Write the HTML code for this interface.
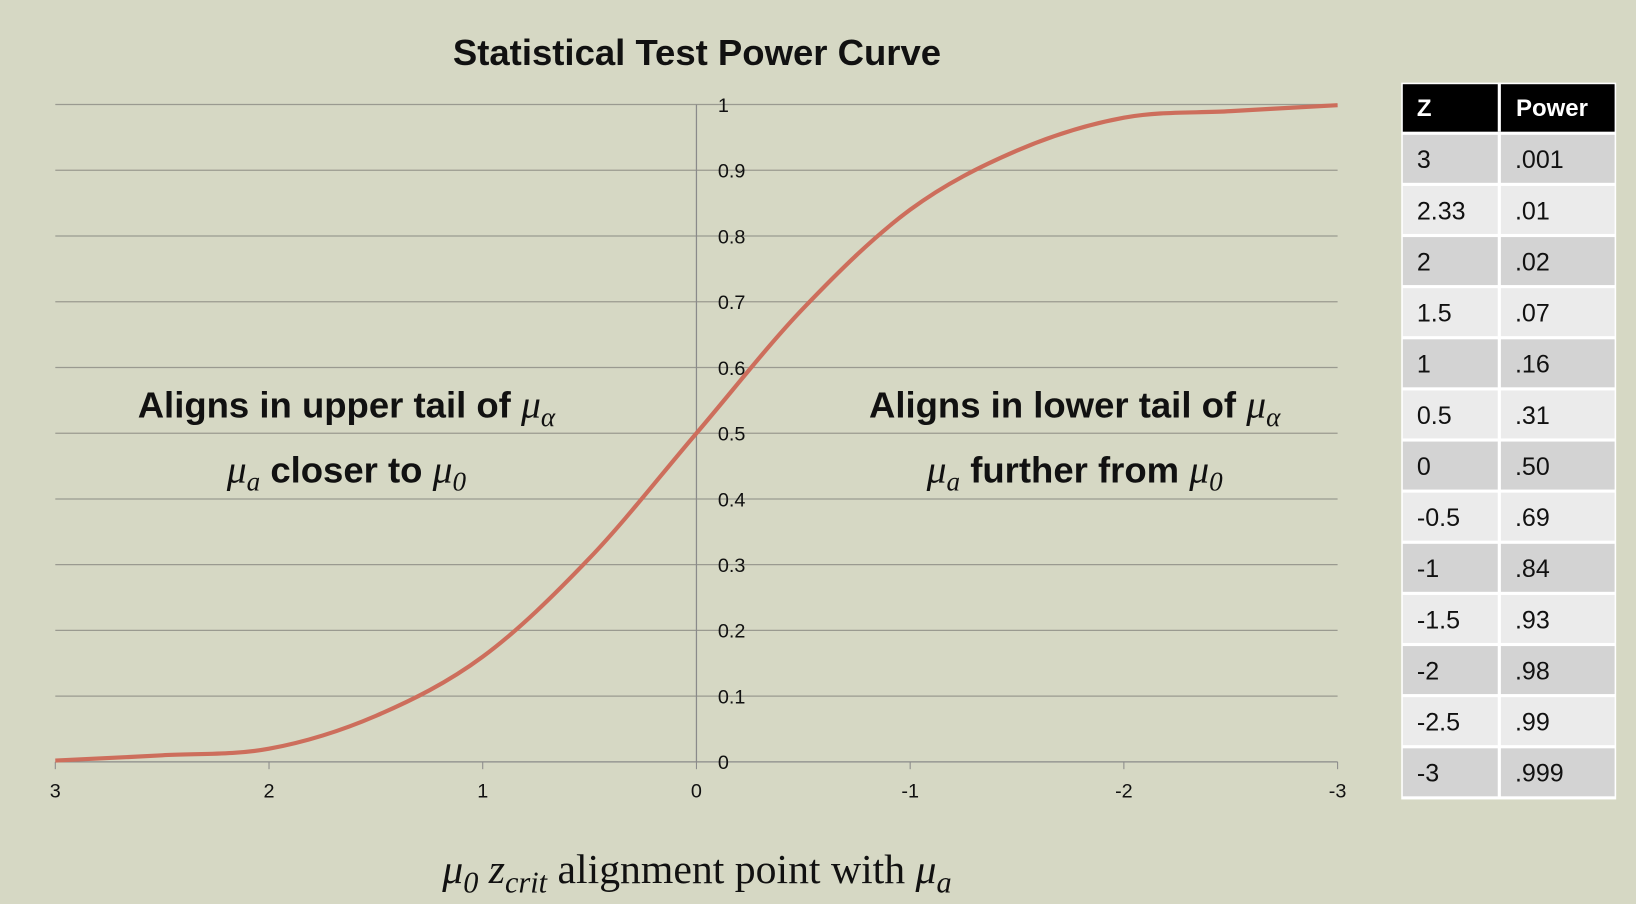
<!DOCTYPE html>
<html><head><meta charset="utf-8"><style>
html,body{margin:0;padding:0;background:#d6d8c4;}
svg{display:block;}
.t{font-family:"Liberation Sans",sans-serif;}
.m{font-family:"Liberation Serif",serif;font-style:italic;}
</style></head><body>
<svg width="1636" height="904" viewBox="0 0 1568 866" xmlns="http://www.w3.org/2000/svg">
<rect width="1568" height="866" fill="#d6d8c4"/>
<text x="668" y="62" text-anchor="middle" class="t" font-size="35" font-weight="bold" fill="#111">Statistical Test Power Curve</text>
<g id="grid"></g>
<g id="curve"></g>
<g id="ann" class="t" font-size="35" font-weight="bold" fill="#111">
<text x="332" y="400" text-anchor="middle">Aligns in upper tail of <tspan class="m" font-weight="normal" font-size="38">μ<tspan font-size="26" dy="8">α</tspan></tspan></text>
<text x="332" y="462" text-anchor="middle"><tspan class="m" font-weight="normal" font-size="38">μ<tspan font-size="26" dy="8">a</tspan></tspan><tspan dy="-8"> closer to </tspan><tspan class="m" font-weight="normal" font-size="38">μ<tspan font-size="26" dy="8">0</tspan></tspan></text>
<text x="1030" y="400" text-anchor="middle">Aligns in lower tail of <tspan class="m" font-weight="normal" font-size="38">μ<tspan font-size="26" dy="8">α</tspan></tspan></text>
<text x="1030" y="462" text-anchor="middle"><tspan class="m" font-weight="normal" font-size="38">μ<tspan font-size="26" dy="8">a</tspan></tspan><tspan dy="-8"> further from </tspan><tspan class="m" font-weight="normal" font-size="38">μ<tspan font-size="26" dy="8">0</tspan></tspan></text>
</g>
<text x="668" y="846" text-anchor="middle" font-family="Liberation Serif,serif" font-size="40" fill="#111"><tspan font-style="italic">μ<tspan font-size="29" dy="9">0</tspan></tspan><tspan dy="-9" font-style="italic"> z<tspan font-size="29" dy="9">crit</tspan></tspan><tspan dy="-9"> alignment point with </tspan><tspan font-style="italic">μ<tspan font-size="29" dy="9">a</tspan></tspan></text>
<g id="table"></g>
</svg>
<script>
const zVals=[3,2.5,2,1.5,1,0.5,0,-0.5,-1,-1.5,-2,-2.5,-3];
const powerVals=[0.002,0.01,0.02,0.07,0.16,0.31,0.5,0.69,0.84,0.93,0.98,0.99,0.999];
const yTicks=[0,0.1,0.2,0.3,0.4,0.5,0.6,0.7,0.8,0.9,1];
const yTickLabels=["0","0.1","0.2","0.3","0.4","0.5","0.6","0.7","0.8","0.9","1"];
const xTicks=[3,2,1,0,-1,-2,-3];
const xTickLabels=["3","2","1","0","-1","-2","-3"];
const tableZ=["3","2.33","2","1.5","1","0.5","0","-0.5","-1","-1.5","-2","-2.5","-3"];
const tablePower=[".001",".01",".02",".07",".16",".31",".50",".69",".84",".93",".98",".99",".999"];
const NS="http://www.w3.org/2000/svg";
const X=z=>53+(3-z)/6*(1282-53);
const Y=p=>730-p*630;
function mk(tag,attrs,parent){const e=document.createElementNS(NS,tag);for(const k in attrs)e.setAttribute(k,attrs[k]);parent.appendChild(e);return e;}
const g=document.getElementById('grid');
yTicks.forEach((v,i)=>{
 const l=mk('line',{x1:53,x2:1282,y1:Y(v),y2:Y(v),stroke:i==0?'#8a8a8a':'#9a9a90','stroke-width':1.2},g);
 
 
 const t=mk('text',{x:688,y:Y(v)+7,'font-size':19,fill:'#111',class:'t'},g);t.textContent=yTickLabels[i];
 
 
});
const ax=mk('line',{x1:X(0),x2:X(0),y1:Y(1),y2:Y(0),stroke:'#8a8a8a','stroke-width':1.2},g);


xTicks.forEach((v,i)=>{
 const tk=mk('line',{x1:X(v),x2:X(v),y1:730,y2:737,stroke:'#8a8a8a'},g);
 
 
 const t=mk('text',{x:X(v),y:764,'font-size':19,fill:'#111','text-anchor':'middle',class:'t'},g);t.textContent=xTickLabels[i];
 
 
});
const pts=zVals.map((z,i)=>[X(z),Y(powerVals[i])]);
let d=`M${pts[0][0]},${pts[0][1]}`;
for(let i=0;i<pts.length-1;i++){
 const p0=pts[Math.max(0,i-1)],p1=pts[i],p2=pts[i+1],p3=pts[Math.min(pts.length-1,i+2)];
 d+=` C${p1[0]+(p2[0]-p0[0])/6},${p1[1]+(p2[1]-p0[1])/6} ${p2[0]-(p3[0]-p1[0])/6},${p2[1]-(p3[1]-p1[1])/6} ${p2[0]},${p2[1]}`;
}
const c=mk('path',{d:d,fill:'none',stroke:'#cd6e5c','stroke-width':4},document.getElementById('curve'));


const tb=document.getElementById('table');
const x0=1343,xm=1437,x1=1549,hy=79,hh=47,rh=49;
const bg=mk('rect',{x:x0,y:hy,width:x1-x0,height:hh+3+tableZ.length*rh,fill:'#fff'},tb);


const h=mk('rect',{x:x0+1.5,y:hy+1.5,width:x1-x0-3,height:hh-1.5,fill:'#000'},tb);


mk('line',{x1:xm,x2:xm,y1:hy,y2:hy+hh,stroke:'#fff','stroke-width':3},tb);
let ht=mk('text',{x:x0+15,y:hy+32,'font-size':23,'font-weight':'bold',fill:'#fff',class:'t'},tb);ht.textContent='Z';


ht=mk('text',{x:xm+16,y:hy+32,'font-size':23,'font-weight':'bold',fill:'#fff',class:'t'},tb);ht.textContent='Power';


tableZ.forEach((z,i)=>{
 const y=hy+hh+3+i*rh;
 const fill=i%2==0?'#d3d3d3':'#ebebeb';
 const r1=mk('rect',{x:x0+1.5,y:y,width:xm-x0-3,height:rh-3,fill:fill},tb);
 
 
 const r2=mk('rect',{x:xm+1.5,y:y,width:x1-xm-3,height:rh-3,fill:fill},tb);
 
 
 let t=mk('text',{x:x0+15,y:y+32,'font-size':24,fill:'#111',class:'t'},tb);t.textContent=z;
 
 
 t=mk('text',{x:xm+15,y:y+32,'font-size':24,fill:'#111',class:'t'},tb);t.textContent=tablePower[i];
 
 
});
</script>
</body></html>
